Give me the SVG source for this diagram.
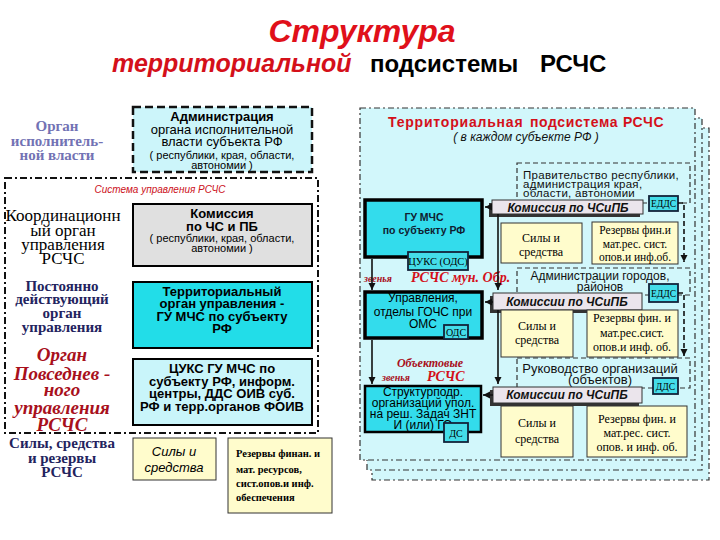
<svg xmlns="http://www.w3.org/2000/svg" width="720" height="540" viewBox="0 0 720 540">
<style>
.sans{font-family:"Liberation Sans",Arial,sans-serif}
.serif{font-family:"Liberation Serif","Times New Roman","DejaVu Serif",serif}
.c{text-anchor:middle}
.b{font-weight:bold}
.i{font-style:italic}
.red{fill:#d4101a}
.navy{fill:#23235e}
.dred{fill:#a8101c}
.dashdot{fill:none;stroke:#111;stroke-width:2;stroke-dasharray:7,3,2,3}
.panel{fill:#d2f7fb;stroke:#333;stroke-width:1.2;stroke-dasharray:6,3,2,3}
.dbox{fill:none;stroke:#333;stroke-width:1.2;stroke-dasharray:5,3}
.cy{fill:#33dcec;stroke:#000;stroke-width:3.5}
.lc{fill:#c9f5fa;stroke:#000;stroke-width:2}
.sm{fill:#44dde9;stroke:#13233a;stroke-width:1.8}
.gr{fill:#ebe5ec;stroke:#333;stroke-width:1}
.sh{fill:#333}
.yl{fill:#fffccc;stroke:#333;stroke-width:1}
.ln{stroke:#111;stroke-width:1.6;fill:none}
.dl{stroke:#111;stroke-width:1.6;fill:none;stroke-dasharray:5,3}
</style>
<defs>
<marker id="ah" markerWidth="8" markerHeight="8" refX="7" refY="4" orient="auto" markerUnits="userSpaceOnUse">
<path d="M0,0.5 L7,4 L0,7.5 Z" fill="#111"/>
</marker>
</defs>
<rect width="720" height="540" fill="#fff"/>

<g id="title">
<text x="362" y="42" class="sans b i c" font-size="32" fill="#e0101a">Структура</text>
<text x="112" y="72" class="sans b i" font-size="25" fill="#d4101a">территориальной</text>
<text x="370" y="72" class="sans b" font-size="24" fill="#000">подсистемы</text>
<text x="540" y="72" class="sans b" font-size="24" fill="#000">РСЧС</text>
</g>

<g id="left-labels">
<g style="font-family:'Liberation Serif','Times New Roman',serif" font-weight="bold" text-anchor="middle" font-size="15" fill="#7272b4">
<text x="57" y="131">Орган</text>
<text x="57" y="146">исполнитель-</text>
<text x="57" y="160">ной власти</text>
</g>
<g style="font-family:'Liberation Serif','Times New Roman',serif" text-anchor="middle" font-size="17" fill="#000">
<text x="63" y="221">Координационн</text>
<text x="63" y="236">ый орган</text>
<text x="63" y="250">управления</text>
<text x="63" y="264">РСЧС</text>
</g>
<g style="font-family:'Liberation Serif','Times New Roman',serif" font-weight="bold" text-anchor="middle" font-size="15" fill="#23235e">
<text x="62" y="291">Постоянно</text>
<text x="62" y="304">действующий</text>
<text x="62" y="318">орган</text>
<text x="62" y="332">управления</text>
</g>
<g style="font-family:'Liberation Serif','Times New Roman',serif" font-weight="bold" font-style="italic" text-anchor="middle" font-size="19" fill="#a8101c">
<text x="62" y="361">Орган</text>
<text x="62" y="380">Повседнев -</text>
<text x="62" y="396">ного</text>
<text x="62" y="414">управления</text>
<text x="62" y="431">РСЧС</text>
</g>
<g style="font-family:'Liberation Serif','Times New Roman',serif" font-weight="bold" text-anchor="middle" font-size="15" fill="#23235e">
<text x="62" y="448">Силы, средства</text>
<text x="62" y="463">и резервы</text>
<text x="62" y="477">РСЧС</text>
</g>
</g>

<g id="admin">
<rect x="133" y="107" width="179" height="65" fill="#ccf5fa" stroke="#111" stroke-width="2.5" stroke-dasharray="8,4"/>
<g class="sans c" fill="#000">
<text x="222" y="121" class="b" font-size="13">Администрация</text>
<text x="222" y="134" font-size="13">органа исполнительной</text>
<text x="222" y="146" font-size="13">власти субъекта РФ</text>
<text x="222" y="159" font-size="11">( республики, края, области,</text>
<text x="222" y="169" font-size="11">автономии )</text>
</g>
</g>

<g id="system">
<rect x="5" y="178" width="313" height="255" class="dashdot"/>
<text x="160" y="193" class="sans i c" font-size="10" fill="#cc1020">Система  управления  РСЧС</text>
</g>

<g id="komissiya">
<rect x="133" y="204" width="179" height="62" fill="#e0e0e0" stroke="#000" stroke-width="2"/>
<g class="sans c" fill="#000">
<text x="222" y="218" class="b" font-size="13">Комиссия</text>
<text x="222" y="231" class="b" font-size="13">по ЧС и ПБ</text>
<text x="222" y="242" font-size="11">( республики, края, области,</text>
<text x="222" y="252" font-size="11">автономии )</text>
</g>
</g>

<g id="terr-organ">
<rect x="133" y="282" width="179" height="66" fill="#22dde8" stroke="#000" stroke-width="2"/>
<g class="sans b c" font-size="13" fill="#000">
<text x="222" y="296">Территориальный</text>
<text x="222" y="308">орган  управления -</text>
<text x="222" y="321">ГУ МЧС  по субъекту</text>
<text x="222" y="333">РФ</text>
</g>
</g>

<g id="tsuks">
<rect x="133" y="359" width="179" height="66" class="lc"/>
<g class="sans b c" font-size="13" fill="#000">
<text x="222" y="373">ЦУКС ГУ МЧС по</text>
<text x="222" y="386">субъекту РФ, информ.</text>
<text x="222" y="398">центры, ДДС ОИВ суб.</text>
<text x="222" y="411">РФ и терр.органов ФОИВ</text>
</g>
</g>

<g id="sily-left">
<rect x="133" y="438" width="83" height="42" class="yl"/>
<text x="174" y="456" class="sans i c" font-size="13">Силы  и</text>
<text x="174" y="472" class="sans i c" font-size="13">средства</text>
</g>

<g id="rezervy-left">
<rect x="228" y="438" width="104" height="75" class="yl"/>
<g style="font-family:'Liberation Serif','Times New Roman',serif" font-weight="bold" font-size="10.5" fill="#000">
<text x="236" y="457">Резервы финан. и</text>
<text x="236" y="473">мат. ресурсов,</text>
<text x="236" y="487">сист.опов.и инф.</text>
<text x="236" y="501">обеспечения</text>
</g>
</g>

<g id="right-panel">
<rect x="372" y="128" width="337" height="352" class="panel"/>
<rect x="367" y="118" width="335" height="352" class="panel"/>
<rect x="360" y="108" width="335" height="352" class="panel"/>
<text x="388" y="127" class="sans b red" font-size="14" letter-spacing="0.8">Территориальная</text>
<text x="530" y="127" class="sans b red" font-size="14" letter-spacing="0.6">подсистема</text>
<text x="623" y="127" class="sans b red" font-size="14" letter-spacing="0.6">РСЧС</text>
<text x="526" y="141" class="sans i c" font-size="12" fill="#111">( в  каждом  субъекте  РФ )</text>
</g>

<g id="gu-mchs">
<rect x="365" y="200" width="117" height="57" class="cy"/>
<text x="424" y="221" class="sans b c" font-size="10.5" fill="#102030">ГУ МЧС</text>
<text x="424" y="234" class="sans b c" font-size="10.5" fill="#102030">по субъекту РФ</text>
</g>
<g id="tsuks-ods">
<rect x="408" y="252" width="60" height="18" class="sm"/>
<text x="438" y="265" style="font-family:'Liberation Serif','Times New Roman',serif" text-anchor="middle" font-size="10.5" fill="#000">ЦУКС (ОДС)</text>
</g>
<g id="zvenya-mun" style="font-family:'Liberation Serif','Times New Roman',serif" font-weight="bold" font-style="italic">
<text x="364" y="282" font-size="10" fill="#a8101c">звенья</text>
<text x="411" y="282" font-size="14" fill="#d4101a">РСЧС мун. Обр.</text>
</g>
<g id="upravleniya">
<rect x="365" y="292" width="117" height="46" class="cy"/>
<g class="sans c" font-size="12" fill="#000">
<text x="423" y="302">Управления,</text>
<text x="423" y="316">отделы ГОЧС при</text>
<text x="423" y="328">ОМС</text>
</g>
</g>
<g id="ods">
<rect x="444" y="325" width="24" height="14" class="sm"/>
<text x="456" y="336" style="font-family:'Liberation Serif','Times New Roman',serif" text-anchor="middle" font-size="10" fill="#000">ОДС</text>
</g>
<g id="zvenya-obj" style="font-family:'Liberation Serif','Times New Roman',serif" font-weight="bold" font-style="italic">
<text x="430" y="367" text-anchor="middle" font-size="12" fill="#a8101c">Объектовые</text>
<text x="382" y="381" font-size="10" fill="#a8101c">звенья</text>
<text x="427" y="381" font-size="14" fill="#d4101a">РСЧС</text>
</g>
<g id="strukt">
<rect x="365" y="386" width="116" height="46" fill="#33dcec" stroke="#000" stroke-width="2.5"/>
<g class="sans c" font-size="12" fill="#000">
<text x="423" y="396">Структурподр.</text>
<text x="423" y="407">организаций упол.</text>
<text x="423" y="418">на реш. Задач ЗНТ</text>
<text x="423" y="429">И (или) ГО</text>
</g>
</g>
<g id="ds">
<rect x="444" y="423" width="24" height="19" class="sm"/>
<text x="456" y="437" style="font-family:'Liberation Serif','Times New Roman',serif" text-anchor="middle" font-size="10" fill="#000">ДС</text>
</g>

<g id="gov">
<rect x="517" y="163" width="173" height="40" class="dbox"/>
<g class="sans" font-size="11.5" fill="#111" letter-spacing="0.3">
<text x="523" y="179">Правительство  республики,</text>
<text x="523" y="188">администрация  края,</text>
<text x="523" y="197">области,  автономии</text>
</g>
</g>
<g id="eds1">
<rect x="649" y="196" width="29" height="15" class="sm"/>
<text x="663.5" y="207" style="font-family:'Liberation Serif','Times New Roman',serif" text-anchor="middle" font-size="9.5" fill="#000">ЕДДС</text>
</g>
<g id="kom1">
<rect x="489" y="203" width="151" height="14" class="sh"/>
<rect x="492" y="200" width="151" height="14" class="gr"/>
<text x="568" y="212" class="sans b i c" font-size="12" fill="#111">Комиссия  по  ЧСиПБ</text>
</g>
<g id="sily1" style="font-family:'Liberation Serif','Times New Roman',serif" text-anchor="middle" font-size="12">
<rect x="501" y="223" width="81" height="40" class="yl"/>
<text x="541" y="242">Силы и</text>
<text x="541" y="256">средства</text>
</g>
<g id="rez1" style="font-family:'Liberation Serif','Times New Roman',serif" text-anchor="middle" font-size="11.5">
<rect x="592" y="222" width="86" height="42" class="yl"/>
<text x="635" y="234">Резервы фин.и</text>
<text x="635" y="248">мат.рес. сист.</text>
<text x="635" y="261">опов.и инф.об.</text>
</g>

<g id="adm-gorod">
<rect x="517" y="268" width="173" height="27" class="dbox"/>
<text x="600" y="280" class="sans c" font-size="12" fill="#111">Администрации  городов,</text>
<text x="600" y="291" class="sans c" font-size="12" fill="#111">районов</text>
</g>
<g id="eds2">
<rect x="649" y="284" width="29" height="18" class="sm"/>
<text x="663.5" y="297" style="font-family:'Liberation Serif','Times New Roman',serif" text-anchor="middle" font-size="9.5" fill="#000">ЕДДС</text>
</g>
<g id="kom2">
<rect x="490" y="296" width="149" height="17" class="sh"/>
<rect x="493" y="293" width="149" height="17" class="gr"/>
<text x="567" y="306" class="sans b i c" font-size="12" fill="#111">Комиссии  по  ЧСиПБ</text>
</g>
<g id="sily2" style="font-family:'Liberation Serif','Times New Roman',serif" text-anchor="middle" font-size="12">
<rect x="501" y="310" width="72" height="47" class="yl"/>
<text x="537" y="330">Силы и</text>
<text x="537" y="344">средства</text>
</g>
<g id="rez2" style="font-family:'Liberation Serif','Times New Roman',serif" text-anchor="middle" font-size="12">
<rect x="587" y="310" width="91" height="47" class="yl"/>
<text x="632" y="322">Резервы фин. и</text>
<text x="632" y="337">мат.рес.сист.</text>
<text x="632" y="351">опов.и инф. об.</text>
</g>

<g id="ruk-org">
<rect x="517" y="358" width="173" height="30" class="dbox"/>
<text x="600" y="373" class="sans c" font-size="13" fill="#111">Руководство  организаций</text>
<text x="600" y="384" class="sans c" font-size="13" fill="#111">(объектов)</text>
</g>
<g id="dds">
<rect x="653" y="378" width="25" height="16" class="sm"/>
<text x="665.5" y="390" style="font-family:'Liberation Serif','Times New Roman',serif" text-anchor="middle" font-size="9.5" fill="#000">ДДС</text>
</g>
<g id="kom3">
<rect x="490" y="390" width="149" height="16" class="sh"/>
<rect x="493" y="387" width="149" height="16" class="gr"/>
<text x="567" y="399" class="sans b i c" font-size="12" fill="#111">Комиссии  по  ЧСиПБ</text>
</g>
<g id="sily3" style="font-family:'Liberation Serif','Times New Roman',serif" text-anchor="middle" font-size="12">
<rect x="501" y="406" width="72" height="51" class="yl"/>
<text x="537" y="427">Силы и</text>
<text x="537" y="443">средства</text>
</g>
<g id="rez3" style="font-family:'Liberation Serif','Times New Roman',serif" text-anchor="middle" font-size="12">
<rect x="587" y="406" width="100" height="51" class="yl"/>
<text x="637" y="423">Резервы фин. и</text>
<text x="637" y="437">мат.рес. сист.</text>
<text x="637" y="451">опов. и инф. об.</text>
</g>

<g id="connectors">
<path d="M492,207 H485" class="ln" marker-end="url(#ah)"/>
<path d="M493,302 H485" class="ln" marker-end="url(#ah)"/>
<path d="M493,395 H483" class="ln" marker-end="url(#ah)"/>
<path d="M372,259 V290" class="ln" marker-end="url(#ah)"/>
<path d="M498,214 V290" class="ln" marker-end="url(#ah)"/>
<path d="M372,340 V384" class="ln" marker-end="url(#ah)"/>
<path d="M498,310 V384" class="ln" marker-end="url(#ah)"/>
<path d="M678,203 H684 V262" class="dl" marker-end="url(#ah)"/>
<path d="M678,293 H684 V356" class="dl" marker-end="url(#ah)"/>
</g>
</svg>
